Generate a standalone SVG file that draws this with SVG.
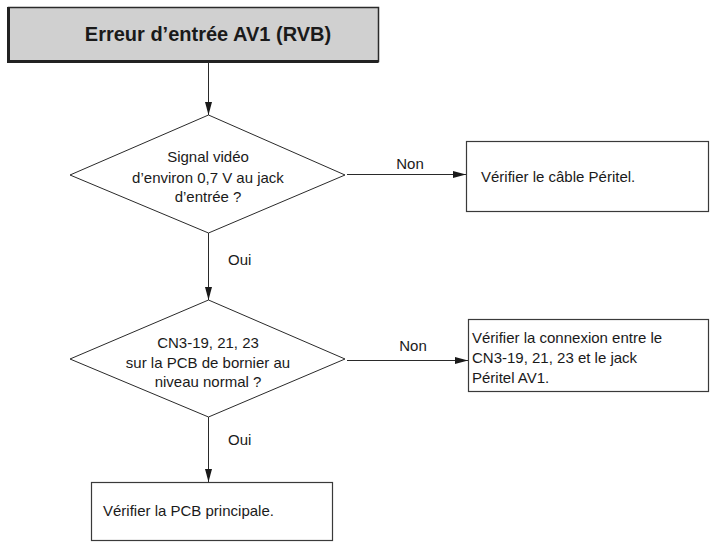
<svg xmlns="http://www.w3.org/2000/svg" width="711" height="542" viewBox="0 0 711 542">
  <style>
    text { font-family: "Liberation Sans", Arial, Helvetica, sans-serif; fill: #1a1a1a; }
    .title { font-size: 20px; font-weight: bold; }
    .lbl { font-size: 15px; }
    .dia { fill: #ffffff; stroke: #2a2a2a; stroke-width: 1; }
    .box { fill: #ffffff; stroke: #3a3a3a; stroke-width: 1.2; }
    .wire { fill: none; stroke: #2a2a2a; stroke-width: 1; }
  </style>
  <defs>
    <marker id="arrow" markerUnits="userSpaceOnUse" markerWidth="14" markerHeight="10" refX="13" refY="4" orient="auto">
      <path d="M0,0.5 L13,4 L0,7.5 Z" fill="#1a1a1a"/>
    </marker>
  </defs>

  <rect width="711" height="542" fill="#ffffff"/>

  <!-- start node -->
  <g id="start">
    <rect x="8.5" y="7.5" width="370" height="54" fill="#d0d0d0" stroke="#2a2a2a" stroke-width="1.5"/>
    <path d="M8.5,7 V61.5 H378.5" fill="none" stroke="#222222" stroke-width="3"/>
    <text class="title" x="208" y="41" text-anchor="middle">Erreur d’entrée AV1 (RVB)</text>
  </g>

  <!-- decision 1 -->
  <g id="q-signal">
    <polygon class="dia" points="208.5,115 345,175 208.5,233 70,175"/>
    <text class="lbl" x="208" y="162" text-anchor="middle">Signal vidéo</text>
    <text class="lbl" x="208" y="183" text-anchor="middle">d’environ 0,7 V au jack</text>
    <text class="lbl" x="208" y="202" text-anchor="middle">d’entrée ?</text>
  </g>

  <!-- action: scart cable -->
  <g id="check-cable">
    <rect class="box" x="466.5" y="141.5" width="242" height="70"/>
    <text class="lbl" x="481" y="182">Vérifier le câble Péritel.</text>
  </g>

  <!-- decision 2 -->
  <g id="q-level">
    <polygon class="dia" points="208.5,300 345,359 208.5,417 70,359"/>
    <text class="lbl" x="208" y="348" text-anchor="middle">CN3-19, 21, 23</text>
    <text class="lbl" x="208" y="368" text-anchor="middle">sur la PCB de bornier au</text>
    <text class="lbl" x="208" y="387" text-anchor="middle">niveau normal ?</text>
  </g>

  <!-- action: connection -->
  <g id="check-connection">
    <rect class="box" x="468.5" y="319.5" width="240" height="72"/>
    <text class="lbl" x="472" y="343">Vérifier la connexion entre le</text>
    <text class="lbl" x="472" y="363">CN3-19, 21, 23 et le jack</text>
    <text class="lbl" x="472" y="383">Péritel AV1.</text>
  </g>

  <!-- action: main board -->
  <g id="check-main">
    <rect class="box" x="91.5" y="482.5" width="241" height="58"/>
    <text class="lbl" x="103" y="516">Vérifier la PCB principale.</text>
  </g>

  <!-- connectors -->
  <g id="connectors">
    <line class="wire" x1="208.5" y1="62" x2="208.5" y2="115" marker-end="url(#arrow)"/>
    <line class="wire" x1="347" y1="174.5" x2="466" y2="174.5" marker-end="url(#arrow)"/>
    <line class="wire" x1="208.5" y1="233" x2="208.5" y2="300" marker-end="url(#arrow)"/>
    <line class="wire" x1="347" y1="360.5" x2="468" y2="360.5" marker-end="url(#arrow)"/>
    <line class="wire" x1="208.5" y1="417" x2="208.5" y2="482" marker-end="url(#arrow)"/>
    <text class="lbl" x="410" y="169" text-anchor="middle">Non</text>
    <text class="lbl" x="228" y="265">Oui</text>
    <text class="lbl" x="413" y="351" text-anchor="middle">Non</text>
    <text class="lbl" x="228" y="445">Oui</text>
  </g>
</svg>
